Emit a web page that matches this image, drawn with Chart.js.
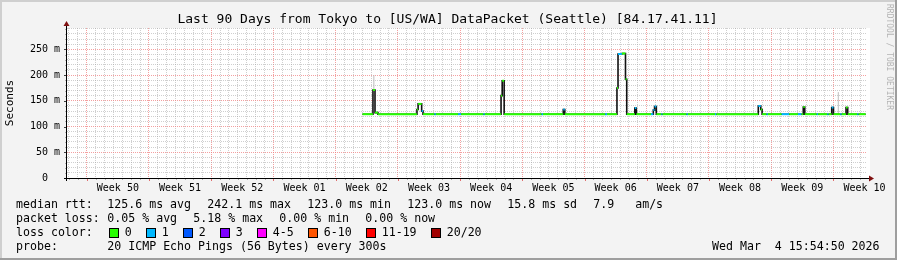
<!DOCTYPE html>
<html>
<head>
<meta charset="utf-8">
<title>Last 90 Days from Tokyo to [US/WA] DataPacket (Seattle)</title>
<script src="https://cdn.jsdelivr.net/npm/chart.js@4.4.1/dist/chart.umd.min.js"></script>
<style>
    body { margin: 0; background: #fff; }
    #graph { position: relative; width: 897px; height: 260px; overflow: hidden; font-family: 'DejaVu Sans Mono', monospace; color: #000; }
    #graph canvas { position: absolute; left: 0; top: 0; }
    .txt { position: absolute; white-space: pre; font-size: 11.6px; line-height: 14px; }
    .title { position: absolute; left: 0; top: 11px; width: 895px; text-align: center; font-size: 13px; line-height: 15px; white-space: pre; }
    .mark { position: absolute; top: 4px; left: 885px; font-size: 8px; color: #b4b4b4; writing-mode: vertical-rl; white-space: pre; }
    .swatch { position: absolute; width: 10px; height: 10px; box-sizing: border-box; border: 1px solid #000; }
</style>
</head>
<body>
<div id="graph">
    <canvas id="rttChart" width="897" height="260"></canvas>
    <div class="title">Last 90 Days from Tokyo to [US/WA] DataPacket (Seattle) [84.17.41.11]</div>
    <div class="mark">RRDTOOL / TOBI OETIKER</div>
</div>
<script>
// x axis is in days from the left edge of the 90 day window
const weekLabels = ['Week 50', 'Week 51', 'Week 52', 'Week 01', 'Week 02', 'Week 03', 'Week 04',
                    'Week 05', 'Week 06', 'Week 07', 'Week 08', 'Week 09', 'Week 10'];
const firstWeekLine = 2.22;

// median rtt samples (ms); each one lasts until the next start day
const sampleDays = [33.24, 34.42, 34.65, 34.98, 39.37, 39.50, 39.90, 40.05, 41.34, 41.50,
                    44.00, 44.34, 46.84, 47.00, 48.83, 48.96, 49.18, 53.40, 53.55, 55.83,
                    56.00, 60.55, 60.75, 61.87, 61.99, 62.43, 62.83, 62.97, 63.88, 64.05,
                    65.70, 65.96, 66.10, 66.30, 66.87, 67.00, 69.70, 69.85, 72.90, 73.05,
                    77.77, 78.05, 78.20, 78.70, 78.85, 80.40, 81.25, 82.23, 82.64, 82.83,
                    83.00, 84.35, 84.50, 85.53, 85.68, 86.03, 86.23, 87.00, 87.15, 87.64,
                    87.83, 88.90, 89.05];
const medianRtt = [124, 171, 127, 124, 133, 144, 130, 124, 124, 124,
                   124, 124, 124, 124, 160, 189, 124, 124, 124, 133,
                   124, 124, 124, 175, 241, 242, 192, 124, 136, 124,
                   124, 132, 139, 124, 124, 124, 124, 124, 124, 124,
                   140, 133, 124, 124, 124, 124, 124, 124, 124, 138,
                   124, 124, 124, 124, 124, 137, 124, 124, 124, 137,
                   124, 124, 124];
const lostPings = [0, 0, 0, 0, 0, 0, 1, 0, 1, 0,
                   1, 0, 1, 0, 0, 0, 0, 1, 0, 1,
                   0, 1, 0, 0, 1, 0, 0, 0, 1, 0,
                   1, 1, 1, 0, 1, 0, 1, 0, 1, 0,
                   1, 0, 0, 1, 0, 1, 0, 1, 0, 0,
                   0, 1, 0, 1, 0, 1, 0, 1, 0, 0,
                   0, 1, 0];
const dataEndDay = 89.85;

// smoke (ping spread) where it shows above the median
const smokeDays = [34.52, 86.77];
const smokeLow = [171, 124];
const smokeHigh = [200, 167];

const lossLabels = ['0', '1', '2', '3', '4-5', '6-10', '11-19', '20/20'];
const lossColors = ['#26ff00', '#00b8ff', '#0059ff', '#7e00ff', '#ff00ff', '#ff5500', '#ff0000', '#a10000'];

const rttStats = ['125.6 ms avg', '242.1 ms max', '123.0 ms min', '123.0 ms now', '15.8 ms sd', '7.9   am/s'];
const lossStats = ['0.05 % avg', '5.18 % max', '0.00 % min', '0.00 % now'];
const probeText = '20 ICMP Echo Pings (56 Bytes) every 300s';
const dateText = 'Wed Mar  4 15:54:50 2026';

function lossBucket(n) {
    if (n <= 3) return n;
    if (n <= 5) return 4;
    if (n <= 10) return 5;
    if (n <= 19) return 6;
    return 7;
}

function buildColoredPieces() {
    var pts = [];
    for (var i = 0; i < sampleDays.length; i++) {
        var end = i + 1 < sampleDays.length ? sampleDays[i + 1] : dataEndDay;
        pts.push({x: sampleDays[i], y: medianRtt[i], loss: lostPings[i]});
        pts.push({x: end, y: medianRtt[i], loss: lostPings[i]});
        pts.push({x: end, y: null});
    }
    return pts;
}

function buildStepLine() {
    var pts = sampleDays.map((d, i) => ({x: d, y: medianRtt[i]}));
    pts.push({x: dataEndDay, y: medianRtt[medianRtt.length - 1]});
    return pts;
}

function buildSmoke() {
    var pts = [];
    smokeDays.forEach((d, i) => {
        pts.push({x: d, y: smokeLow[i]});
        pts.push({x: d, y: smokeHigh[i]});
        pts.push({x: d, y: null});
    });
    return pts;
}

function addText(text, x, y, cls) {
    var el = document.createElement('div');
    el.className = cls || 'txt';
    el.textContent = text;
    el.style.left = x + 'px';
    el.style.top = y + 'px';
    document.getElementById('graph').appendChild(el);
    return el;
}

// legend items are spaced like rrdtool does it: 7px per char plus a gap
function addRow(items, y) {
    var x = 107.3;
    items.forEach(s => {
        addText(s, x, y);
        x += (s.length + 2) * 7 + 2;
    });
}

function buildLegend() {
    addText('median rtt:', 16, 197);
    addRow(rttStats, 197);
    addText('packet loss:', 16, 211);
    addRow(lossStats, 211);
    addText('loss color:', 16, 225);
    var x = 108.7;
    lossLabels.forEach((label, i) => {
        var sw = document.createElement('div');
        sw.className = 'swatch';
        sw.style.left = x + 'px';
        sw.style.top = '227.5px';
        sw.style.background = lossColors[i];
        document.getElementById('graph').appendChild(sw);
        addText(label, x + 16, 225);
        x += 30 + label.length * 7;
    });
    addText('probe:', 16, 239);
    addText(probeText, 107.3, 239);
    var d = addText(dateText, 0, 239);
    d.style.left = (880 - d.offsetWidth) + 'px';
}

function isWeekLine(v) {
    var n = Math.round(v - firstWeekLine);
    return Math.abs(v - firstWeekLine - n) < 0.01 && n % 7 === 0;
}

// rrdtool look: canvas frame, white plot area, axes with arrows
const rrdFrame = {
    id: 'rrdFrame',
    beforeDraw(chart) {
        const c = chart.ctx, a = chart.chartArea;
        c.save();
        c.fillStyle = '#f3f3f3';
        c.fillRect(0, 0, chart.width, chart.height);
        c.fillStyle = '#cfcfcf';
        c.fillRect(0, 0, chart.width, 2);
        c.fillRect(0, 0, 2, chart.height);
        c.fillStyle = '#9e9e9e';
        c.fillRect(0, chart.height - 2, chart.width, 2);
        c.fillRect(chart.width - 2, 0, 2, chart.height);
        c.fillStyle = '#ffffff';
        c.fillRect(a.left, a.top, a.right - a.left + 3, a.bottom - a.top);
        c.restore();
    },
    afterDraw(chart) {
        const c = chart.ctx, a = chart.chartArea;
        const xs = chart.scales.x, ys = chart.scales.y;
        c.save();
        // tick marks below the time axis
        xs.ticks.forEach(t => {
            var k = Math.round((t.value - firstWeekLine) * 2);
            if (k % 2 !== 0) return;
            var px = Math.round(xs.getPixelForValue(t.value)) + 0.5;
            var week = isWeekLine(t.value);
            c.strokeStyle = week ? '#e07070' : '#b0b0b0';
            c.beginPath();
            c.moveTo(px, a.bottom);
            c.lineTo(px, a.bottom + (week ? 3 : 2));
            c.stroke();
        });
        // tick marks left of the value axis
        ys.ticks.forEach(t => {
            var py = Math.round(ys.getPixelForValue(t.value)) + 0.5;
            c.strokeStyle = t.value % 50 === 0 ? '#404040' : '#b0b0b0';
            c.beginPath();
            c.moveTo(a.left - (t.value % 50 === 0 ? 3 : 2), py);
            c.lineTo(a.left, py);
            c.stroke();
        });
        c.strokeStyle = '#000';
        c.lineWidth = 1;
        c.beginPath();
        c.moveTo(a.left - 3, a.bottom + 0.5);
        c.lineTo(a.right + 3, a.bottom + 0.5);
        c.moveTo(a.left - 0.5, a.bottom + 3);
        c.lineTo(a.left - 0.5, a.top - 3);
        c.stroke();
        c.fillStyle = '#7f1010';
        c.beginPath();
        c.moveTo(a.right + 7, a.bottom + 0.5);
        c.lineTo(a.right + 2, a.bottom - 2.5);
        c.lineTo(a.right + 2, a.bottom + 3.5);
        c.closePath();
        c.fill();
        c.beginPath();
        c.moveTo(a.left - 0.5, a.top - 7);
        c.lineTo(a.left - 3.5, a.top - 2);
        c.lineTo(a.left + 2.5, a.top - 2);
        c.closePath();
        c.fill();
        c.restore();
    }
};

document.addEventListener('DOMContentLoaded', function () {
    var colored = buildColoredPieces();
    var ctx = document.getElementById('rttChart').getContext('2d');

    var rttChart = new Chart(ctx, {
        type: 'line',
        data: {
            datasets: [{
                label: 'median rtt',
                data: colored,
                borderWidth: 2,
                borderColor: lossColors[0],
                spanGaps: false,
                segment: {
                    borderColor: c => lossColors[lossBucket(colored[c.p0DataIndex].loss || 0)]
                }
            }, {
                label: 'median steps',
                data: buildStepLine(),
                borderWidth: 1.6,
                borderColor: '#111',
                stepped: true
            }, {
                label: 'smoke',
                data: buildSmoke(),
                borderWidth: 1,
                borderColor: '#bdbdbd',
                spanGaps: false
            }]
        },
        options: {
            responsive: false,
            animation: false,
            devicePixelRatio: 1,
            layout: { padding: { top: 28, right: 30, left: 0, bottom: 0 } },
            elements: { point: { radius: 0 }, line: { tension: 0 } },
            plugins: {
                legend: { display: false },
                tooltip: { enabled: false },
                title: { display: false }
            },
            scales: {
                x: {
                    type: 'linear',
                    min: 0,
                    max: 90,
                    afterFit: function (scale) { scale.height = 82; },
                    afterBuildTicks: function (scale) {
                        var ticks = [];
                        for (var k = 0; k < 180; k++) {
                            ticks.push({ value: firstWeekLine - 2 + k * 0.5 });
                        }
                        scale.ticks = ticks;
                    },
                    grid: {
                        drawTicks: false,
                        lineWidth: 1,
                        color: function (c) {
                            if (!c.tick) return 'transparent';
                            var k = Math.round((c.tick.value - firstWeekLine) * 2);
                            if (k % 2 !== 0) return 'transparent';
                            return isWeekLine(c.tick.value) ? 'rgba(240,120,120,0.7)' : 'rgba(160,160,160,0.5)';
                        }
                    },
                    border: { display: false, dash: [1, 1] },
                    ticks: {
                        autoSkip: false,
                        maxRotation: 0,
                        minRotation: 0,
                        padding: 4,
                        color: '#000',
                        font: { family: 'DejaVu Sans Mono', size: 10 },
                        callback: function (value) {
                            var half = Math.round((value - firstWeekLine) * 2);
                            if (half < 7 || (half - 7) % 14 !== 0) return '';
                            return weekLabels[(half - 7) / 14] || '';
                        }
                    }
                },
                y: {
                    min: 0,
                    max: 291.5,
                    afterFit: function (scale) { scale.width = 67; },
                    afterBuildTicks: function (scale) {
                        var ticks = [];
                        for (var v = 0; v <= 290; v += 10) ticks.push({ value: v });
                        scale.ticks = ticks;
                    },
                    grid: {
                        drawTicks: false,
                        lineWidth: 1,
                        color: function (c) {
                            if (!c.tick) return 'transparent';
                            return c.tick.value % 50 === 0 ? 'rgba(240,120,120,0.7)' : 'rgba(160,160,160,0.5)';
                        }
                    },
                    border: { display: false, dash: [1, 1] },
                    title: {
                        display: true,
                        text: 'Seconds',
                        color: '#000',
                        font: { family: 'DejaVu Sans Mono', size: 11 },
                        padding: { top: 4, bottom: 0 }
                    },
                    ticks: {
                        autoSkip: false,
                        padding: 7,
                        color: '#000',
                        font: { family: 'DejaVu Sans Mono', size: 10 },
                        callback: function (value) {
                            if (value % 50 !== 0) return '';
                            return value === 0 ? '0  ' : value + ' m';
                        }
                    }
                }
            }
        },
        plugins: [rrdFrame]
    });

    buildLegend();
});
</script>
</body>
</html>
